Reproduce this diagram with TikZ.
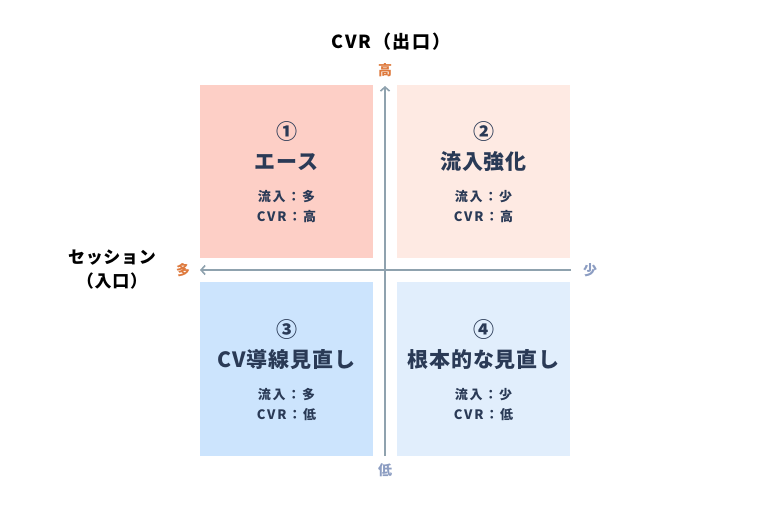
\documentclass[tikz,border=0pt]{standalone}
\usepackage{fontspec}
\setmainfont{Noto Sans CJK JP}[BoldFont={Noto Sans CJK JP Black}]
\usetikzlibrary{arrows.meta}
\definecolor{navy}{HTML}{2A3A56}
\definecolor{axisgray}{HTML}{8FA2AE}
\definecolor{hiorange}{HTML}{DE7A3E}
\definecolor{lowblue}{HTML}{8C9DC2}
\definecolor{redA}{HTML}{FDCFC6}
\definecolor{redB}{HTML}{FEEAE3}
\definecolor{blueA}{HTML}{CCE4FD}
\definecolor{blueB}{HTML}{E1EEFC}
\begin{document}
\begin{tikzpicture}[
        x=1pt, y=-1pt,
        quad/.style={draw=none, minimum width=173pt, minimum height=173pt, inner sep=0pt},
        num/.style={text=navy, font=\fontsize{21}{21}\selectfont\bfseries},
        title/.style={text=navy, font=\fontsize{21}{21}\selectfont\bfseries\addfontfeature{LetterSpace=4}},
        sub/.style={text=navy, align=center, font=\fontsize{13}{20}\selectfont\bfseries\addfontfeature{LetterSpace=14}},
        axis/.style={draw=axisgray, line width=1.6pt, -{Straight Barb[length=4pt,width=9pt,line width=1.6pt]}},
        axlabel/.style={font=\fontsize{14}{14}\selectfont\bfseries},
        heading/.style={text=black, align=center, font=\fontsize{18}{24}\selectfont\bfseries\addfontfeature{LetterSpace=10}},
        sideheading/.style={text=black, align=center, font=\fontsize{17}{24}\selectfont\bfseries\addfontfeature{LetterSpace=4}},
    ]
    \useasboundingbox (0,0) rectangle (760,510);
    % quadrants
    \node[quad, fill=redA] (q1) at (286.5,171.5) {};
    \node[quad, fill=redB] (q2) at (483.5,171.5) {};
    \node[quad, fill=blueA] (q3) at (286.5,369) {};
    \node[quad, fill=blueB] (q4) at (483.5,369) {};
    % quadrant texts
    \node[num] (n1) at ([yshift=-47pt]q1.north) {①};
    \node[title] (t1) at ([yshift=-77pt]q1.north) {エース};
    \node[sub] (s1) at ([yshift=-122pt]q1.north) {流入：多\\CVR：高};
    \node[num] (n2) at ([yshift=-47pt]q2.north) {②};
    \node[title] (t2) at ([yshift=-77pt]q2.north) {流入強化};
    \node[sub] (s2) at ([yshift=-122pt]q2.north) {流入：少\\CVR：高};
    \node[num] (n3) at ([yshift=-47pt]q3.north) {③};
    \node[title] (t3) at ([yshift=-77pt]q3.north) {CV導線見直し};
    \node[sub] (s3) at ([yshift=-122pt]q3.north) {流入：多\\CVR：低};
    \node[num] (n4) at ([yshift=-47pt]q4.north) {④};
    \node[title] (t4) at ([yshift=-77pt]q4.north) {根本的な見直し};
    \node[sub] (s4) at ([yshift=-122pt]q4.north) {流入：少\\CVR：低};
    % axes
    \coordinate (ytop) at (385,86);
    \coordinate (ybot) at (385,456);
    \coordinate (xleft) at (200,270);
    \coordinate (xright) at (571,270);
    \draw[axis] (ybot) -- (ytop);
    \draw[axis] (xright) -- (xleft);
    \node[axlabel, text=hiorange] (high) at (385,70) {高};
    \node[axlabel, text=lowblue] (low) at (385,470) {低};
    \node[axlabel, text=hiorange] (many) at (183,270) {多};
    \node[axlabel, text=lowblue] (few) at (590,270) {少};
    \node[heading] (cvr) at (391,42) {CVR（出口）};
    \node[sideheading] (sess) at (112,270) {セッション\\（入口）};
\end{tikzpicture}
\end{document}
